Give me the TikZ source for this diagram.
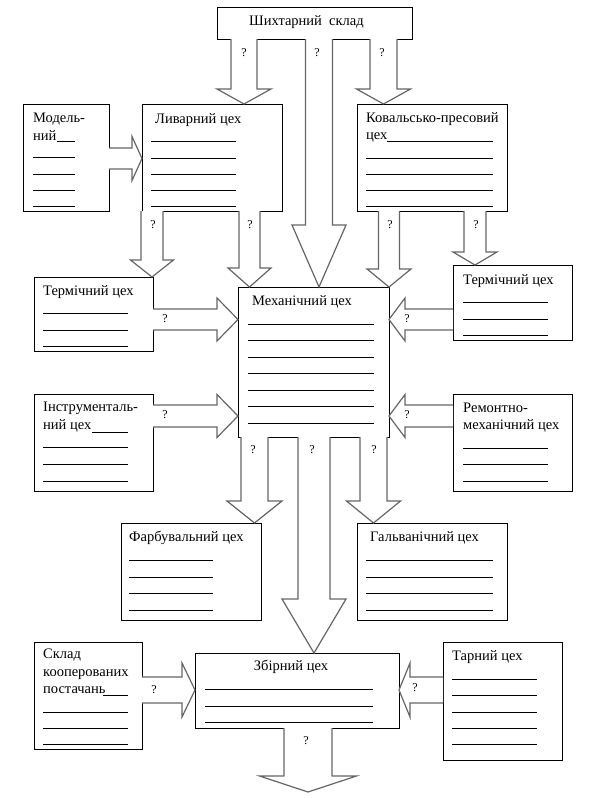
\documentclass[tikz,border=0pt]{standalone}
\usepackage{fontspec}
\setmainfont{Liberation Serif}
\usetikzlibrary{calc}

\tikzset{%
    shop/.style={draw=black, line width=1pt, fill=white, inner sep=0pt, outer sep=0pt},
    shoplabel/.style={anchor=base west, inner sep=0pt, align=left,
        font=\fontsize{14.5}{17.5}\selectfont},
    qmark/.style={inner sep=0pt, font=\fontsize{12}{14}\selectfont},
    blockarrow/.style={draw=black!60, line width=1.2pt, fill=white, line join=miter},
    blank/.style={line width=0.9pt}
}

% vertical block arrow: x, from, to, half shaft, half head, head length
\newcommand{\downblock}[6]{%
    \draw[blockarrow] let \p1=(#1,0 |- #2), \p2=(#1,0 |- #3) in
        (\x1-#4pt,\y1) -- (\x1-#4pt,\y2+#6pt) -- (\x1-#5pt,\y2+#6pt) -- (\x2,\y2)
        -- (\x1+#5pt,\y2+#6pt) -- (\x1+#4pt,\y2+#6pt) -- (\x1+#4pt,\y1);
}
% horizontal block arrow: y, from, to, half shaft, half head, head length (< 0 to the left)
\newcommand{\sideblock}[6]{%
    \draw[blockarrow] let \p1=(#2 |- 0,#1), \p2=(#3 |- 0,#1), \n1={#6pt} in
        (\x1,\y1+#4pt) -- ({\x2-\n1},\y1+#4pt) -- ({\x2-\n1},\y1+#5pt) -- (\x2,\y2)
        -- ({\x2-\n1},\y1-#5pt) -- ({\x2-\n1},\y1-#4pt) -- (\x1,\y1-#4pt);
}
% blank lines to fill in: x from, x to, list of y
\newcommand{\blanks}[3]{%
    \foreach \yy in {#3} {\draw[blank] (#1,\yy) -- (#2,\yy);}
}

\begin{document}
\begin{tikzpicture}[x=1pt, y=-1pt]
    \useasboundingbox (0,0) rectangle (590,798);

    % Shops
    \node[shop, minimum width=195pt, minimum height=32pt] (shikh) at (314.5, 23) {};
    \node[shop, minimum width=86pt, minimum height=107pt] (model) at (66, 157.5) {};
    \node[shop, minimum width=140pt, minimum height=107pt] (lyv) at (212, 157.5) {};
    \node[shop, minimum width=150pt, minimum height=107pt] (koval) at (432, 157.5) {};
    \node[shop, minimum width=119pt, minimum height=74pt] (term-l) at (93.5, 314) {};
    \node[shop, minimum width=151pt, minimum height=150pt] (mech) at (313.5, 362) {};
    \node[shop, minimum width=119pt, minimum height=75pt] (term-r) at (512.5, 302.5) {};
    \node[shop, minimum width=119pt, minimum height=97pt] (instr) at (93.5, 442.5) {};
    \node[shop, minimum width=119pt, minimum height=97pt] (remont) at (512.5, 442.5) {};
    \node[shop, minimum width=140pt, minimum height=97pt] (farb) at (191, 571.5) {};
    \node[shop, minimum width=150pt, minimum height=97pt] (galv) at (432, 571.5) {};
    \node[shop, minimum width=108pt, minimum height=107pt] (sklad) at (88, 695.5) {};
    \node[shop, minimum width=204pt, minimum height=75pt] (zbir) at (297, 690.5) {};
    \node[shop, minimum width=119pt, minimum height=118pt] (tarn) at (502.5, 701) {};

    % Labels (multi-line ones sit on their last baseline)
    \node[shoplabel, anchor=base] (shikh-t) at (306.5, 25.5) {Шихтарний\ \ склад};
    \node[shoplabel] (model-t) at (33, 140) {Модель-\\ний};
    \node[shoplabel] (lyv-t) at (155, 123) {Ливарний цех};
    \node[shoplabel] (koval-t) at (366, 139.5) {Ковальсько-пресовий\\цех};
    \node[shoplabel] (term-l-t) at (43, 295) {Термічний цех};
    \node[shoplabel] (mech-t) at (252, 305) {Механічний цех};
    \node[shoplabel] (term-r-t) at (463, 284) {Термічний цех};
    \node[shoplabel] (instr-t) at (43, 429) {Інструменталь-\\ний цех};
    \node[shoplabel] (remont-t) at (463, 429.5) {Ремонтно-\\механічний цех};
    \node[shoplabel] (farb-t) at (129, 541) {Фарбувальний цех};
    \node[shoplabel] (galv-t) at (370, 541) {Гальванічний цех};
    \node[shoplabel] (sklad-t) at (43, 693.5) {Склад\\кооперованих\\постачань};
    \node[shoplabel, anchor=base] (zbir-t) at (291, 670) {Збірний цех};
    \node[shoplabel] (tarn-t) at (452, 660) {Тарний цех};

    % Lines to fill in
    \blanks{57}{75}{141}
    \blanks{33}{75}{157, 174, 190, 206}
    \blanks{151}{236}{141, 158, 174, 190, 206}
    \blanks{387}{493}{141}
    \blanks{366}{493}{158, 174, 190, 206}
    \blanks{43}{128}{313, 330, 346}
    \blanks{248}{374}{324, 340, 357, 373, 390, 406, 423}
    \blanks{463}{548}{302, 319, 335}
    \blanks{92}{128}{432}
    \blanks{43}{128}{447, 464, 481}
    \blanks{463}{548}{448, 464, 481}
    \blanks{129}{213}{560, 577, 593, 610}
    \blanks{366}{493}{560, 577, 593, 610}
    \blanks{103}{128}{695}
    \blanks{43}{128}{712, 728, 744}
    \blanks{205}{373}{689, 706, 722}
    \blanks{452}{537}{679, 695, 712, 728, 744}

    % Flows down
    \downblock{244}{shikh.south}{lyv.north}{13}{27}{15}
    \downblock{319}{shikh.south}{mech.north}{13.5}{27}{62}
    \downblock{383.5}{shikh.south}{koval.north}{13.5}{27}{15}
    \downblock{152}{lyv.south}{term-l.north}{11}{21.5}{17}
    \downblock{249.5}{lyv.south}{mech.north}{10.5}{21.5}{19}
    \downblock{389}{koval.south}{mech.north}{10.5}{22}{18}
    \downblock{475}{koval.south}{term-r.north}{11}{22}{13}
    \downblock{254.5}{mech.south}{farb.north}{13.5}{27.5}{22}
    \downblock{314}{mech.south}{zbir.north}{16}{32}{54}
    \downblock{373.5}{mech.south}{galv.north}{13.5}{27}{22}
    \coordinate (exit) at (308, 792);
    \downblock{308}{zbir.south}{exit}{24}{48.5}{16}

    % Flows sideways
    \sideblock{158.5}{model.east}{lyv.west}{10.5}{22}{10}
    \sideblock{319.5}{term-l.east}{mech.west}{10.5}{21.5}{21}
    \sideblock{416}{instr.east}{mech.west}{11}{21.5}{21}
    \sideblock{319.5}{term-r.west}{mech.east}{10.5}{21.5}{-16}
    \sideblock{416}{remont.west}{mech.east}{11}{21.5}{-16}
    \sideblock{690}{sklad.east}{zbir.west}{13}{27}{13}
    \sideblock{690}{tarn.west}{zbir.east}{13}{27}{-11}

    % Question marks
    \node[qmark] (q1) at (244, 53) {?};
    \node[qmark] (q2) at (317, 53) {?};
    \node[qmark] (q3) at (382, 53) {?};
    \node[qmark] (q4) at (153, 225) {?};
    \node[qmark] (q5) at (250, 225) {?};
    \node[qmark] (q6) at (390, 225) {?};
    \node[qmark] (q7) at (476, 225) {?};
    \node[qmark] (q8) at (253, 450) {?};
    \node[qmark] (q9) at (312, 450) {?};
    \node[qmark] (q10) at (374, 450) {?};
    \node[qmark] (q11) at (306, 741) {?};
    \node[qmark] (q12) at (165, 319) {?};
    \node[qmark] (q13) at (165, 415) {?};
    \node[qmark] (q14) at (407, 319) {?};
    \node[qmark] (q15) at (407, 415) {?};
    \node[qmark] (q16) at (154, 690) {?};
    \node[qmark] (q17) at (415, 688) {?};

\end{tikzpicture}
\end{document}
